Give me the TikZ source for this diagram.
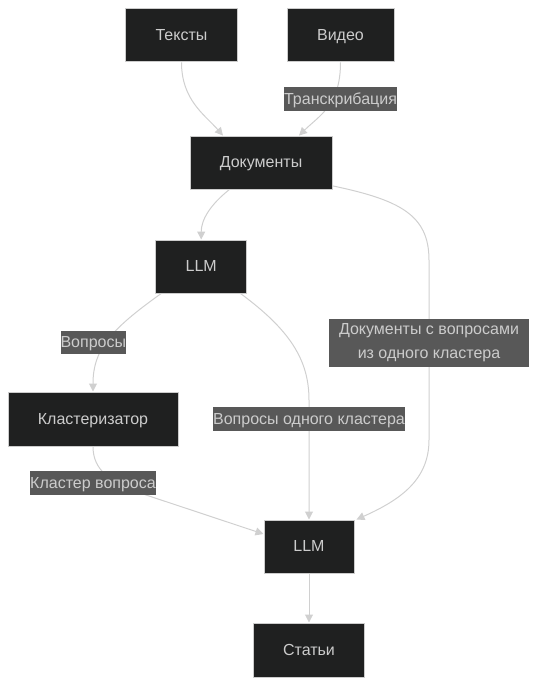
\documentclass[tikz,border=0pt]{standalone}
\usepackage{fontspec}
\setmainfont{Liberation Sans}
\usetikzlibrary{arrows.meta,calc}
\definecolor{nodebg}{HTML}{1F2020}
\definecolor{nodeborder}{HTML}{CCCCCC}
\definecolor{txtclr}{HTML}{CCCCCC}
\definecolor{lblbg}{HTML}{585858}
\definecolor{lineclr}{HTML}{D0D0D0}
\tikzset{
  nd/.style={draw=nodeborder, line width=0.75pt, fill=nodebg, text=txtclr, inner sep=0pt,
    text height=10.4pt, text depth=2.8pt,
    font=\fontsize{12}{14}\selectfont},
  lbl/.style={fill=lblbg, text=txtclr, inner sep=0pt, align=center,
    font=\fontsize{12}{18}\selectfont},
  onelbl/.style={lbl, text height=10.4pt, text depth=2.8pt},
  edge/.style={draw=lineclr, line width=0.75pt,
    -{Triangle[length=6pt,width=6pt,fill=lineclr]}},
}
\begin{document}
\begin{tikzpicture}[x=0.75pt,y=-0.75pt]
\useasboundingbox (0,0) rectangle (537,686);

% nodes
\node[nd, minimum width=111.6*0.75pt, minimum height=53.7*0.75pt] (txt) at (181.5,35) {Тексты};
\node[nd, minimum width=107*0.75pt, minimum height=53.7*0.75pt] (vid) at (340.5,35) {Видео};
\node[nd, minimum width=142*0.75pt, minimum height=53.3*0.75pt] (doc) at (261,162.7) {Документы};
\node[nd, minimum width=91*0.75pt, minimum height=53*0.75pt] (llma) at (201.2,266.5) {LLM};
\node[nd, minimum width=170*0.75pt, minimum height=54*0.75pt] (klast) at (93,419) {Кластеризатор};
\node[nd, minimum width=90*0.75pt, minimum height=53*0.75pt] (llmb) at (309,546.5) {LLM};
\node[nd, minimum width=111*0.75pt, minimum height=54*0.75pt] (stat) at (309,650) {Статьи};

% edges
\draw[edge] (txt.south) .. controls (181.5,100) and (205,115) .. ($(doc.north)+(-38,0)$);
\draw[edge] (vid.south) .. controls (340.5,105) and (320,115) .. ($(doc.north)+(38,0)$);
\draw[edge] ($(doc.south)+(-32,0)$) .. controls (210,205) and (201.2,220) .. (llma.north);
\draw[edge] ($(doc.south east)+(0,-4)$) .. controls (400,200) and (429,215) .. (429,260)
   -- (429,440) .. controls (429,480) and (400,500) .. ($(llmb.north east)+(2,0)$);
\draw[edge] ($(llma.south west)+(6,0)$) .. controls (110,330) and (93,350) .. (klast.north);
\draw[edge] ($(llma.south east)+(-6.7,0)$) .. controls (290,330) and (309,360) .. (309,400)
   -- (llmb.north);
\draw[edge] (klast.south) .. controls (93,470) and (110,482) .. (140,493)
   -- ($(llmb.west)+(0,-12.5)$);
\draw[edge] (llmb.south) -- (stat.north);

% edge labels
\node[onelbl, minimum width=113*0.75pt, minimum height=23.7*0.75pt] (l1) at (340.5,99) {Транскрибация};
\node[onelbl, minimum width=65*0.75pt, minimum height=23*0.75pt] (l2) at (93.3,342.5) {Вопросы};
\node[lbl, minimum width=200*0.75pt, minimum height=47.7*0.75pt] (l3) at (429,343) {\raisebox{-1.5pt}{Документы с вопросами}\\\raisebox{-1.5pt}{из одного кластера}};
\node[onelbl, minimum width=192*0.75pt, minimum height=24*0.75pt] (l4) at (309,419) {Вопросы одного кластера};
\node[onelbl, minimum width=126*0.75pt, minimum height=24*0.75pt] (l5) at (93,483) {Кластер вопроса};
\end{tikzpicture}
\end{document}
